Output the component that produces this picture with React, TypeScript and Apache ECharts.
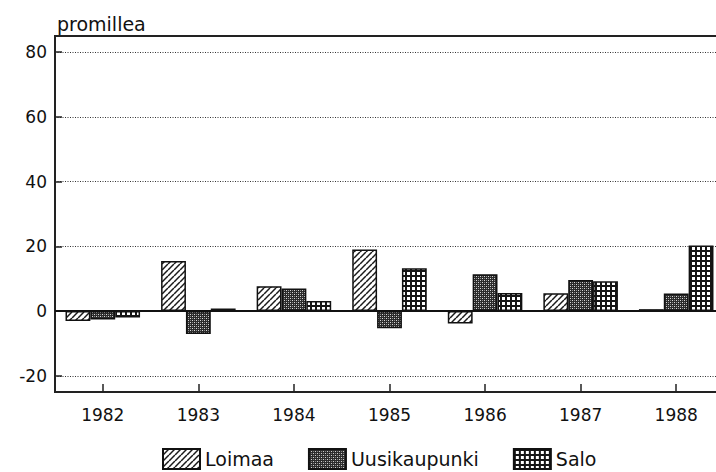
import React, { useEffect, useRef } from "react";
import * as echarts from "echarts";

const categories = ["1982", "1983", "1984", "1985", "1986", "1987", "1988"];
const seriesNames = ["Loimaa", "Uusikaupunki", "Salo"];
const loimaa = [-3.1, 15.5, 7.7, 19.0, -3.8, 5.5, 0.6];
const uusikaupunki = [-2.6, -7.1, 7.0, -5.3, 11.4, 9.6, 5.4];
const salo = [-2.0, 0.8, 3.1, 13.2, 5.6, 9.2, 20.3];
const yTicks = [-20, 0, 20, 40, 60, 80];
const yUnit = "promillea";

const FONT = "DejaVu Sans";

function makeTile(size: number, draw: (c: CanvasRenderingContext2D) => void) {
  const cv = document.createElement("canvas");
  cv.width = size;
  cv.height = size;
  const ctx = cv.getContext("2d") as CanvasRenderingContext2D;
  draw(ctx);
  return { image: cv, repeat: "repeat", imageWidth: size, imageHeight: size } as any;
}

function hatch() {
  const s = 6;
  return makeTile(s, (c) => {
    c.fillStyle = "#fff";
    c.fillRect(0, 0, s, s);
    c.strokeStyle = "#1a1a1a";
    c.lineWidth = 1.5;
    for (const k of [-s, 0, s]) {
      c.beginPath();
      c.moveTo(k, s);
      c.lineTo(k + s, 0);
      c.stroke();
    }
  });
}

function speckle() {
  const s = 4;
  return makeTile(s, (c) => {
    c.fillStyle = "#2b2b2b";
    c.fillRect(0, 0, s, s);
    c.fillStyle = "#d8d8d8";
    c.fillRect(0, 0, 1, 1);
    c.fillRect(2, 2, 1, 1);
    c.fillStyle = "#8a8a8a";
    c.fillRect(2, 0, 1, 1);
    c.fillRect(0, 2, 1, 1);
  });
}

function grid() {
  const s = 5;
  return makeTile(s, (c) => {
    c.fillStyle = "#151515";
    c.fillRect(0, 0, s, s);
    c.fillStyle = "#fff";
    c.fillRect(2, 2, 3, 3);
  });
}

export default function App() {
  const ref = useRef<HTMLDivElement>(null);
  useEffect(() => {
    if (!ref.current) return;
    const chart = echarts.init(ref.current, undefined, { renderer: "svg" });
    const patterns = [hatch(), speckle(), grid()];
    const values = [loimaa, uusikaupunki, salo];
    const series: any[] = seriesNames.map((name, i) => ({
      name,
      type: "bar",
      data: values[i],
      barGap: "0%",
      barCategoryGap: "22%",
      itemStyle: { color: patterns[i], borderColor: "#111", borderWidth: 1.5 },
      emphasis: { disabled: true },
      ...(i === 0
        ? {
            markLine: {
              silent: true,
              symbol: "none",
              label: { show: false },
              lineStyle: { color: "#111", width: 2, type: "solid" },
              data: [{ yAxis: 0 }],
            },
          }
        : {}),
    }));
    chart.setOption({
      animation: false,
      backgroundColor: "#fff",
      title: {
        text: yUnit,
        left: 52,
        top: 9,
        textStyle: { fontFamily: FONT, fontSize: 19, fontWeight: "normal", color: "#111" },
      },
      grid: {
        left: 55,
        right: -8,
        top: 36,
        bottom: 80,
        outerBoundsMode: "none",
        show: true,
        borderColor: "#222",
        borderWidth: 2,
        backgroundColor: "transparent",
        containLabel: false,
      },
      legend: {
        left: 162,
        top: 448,
        padding: 0,
        itemWidth: 37,
        itemHeight: 20,
        itemGap: 34,
        icon: "rect",
        selectedMode: false,
        textStyle: { fontFamily: FONT, fontSize: 19, color: "#111" },
        data: seriesNames,
      },
      xAxis: {
        type: "category",
        data: categories,
        axisLine: { show: true, onZero: false, lineStyle: { color: "#222", width: 2 } },
        axisTick: { show: true, inside: true, length: 8, alignWithLabel: true, lineStyle: { color: "#222", width: 1.5 } },
        axisLabel: { fontFamily: FONT, fontSize: 17, color: "#111", margin: 14 },
        splitLine: { show: false },
      },
      yAxis: {
        type: "value",
        min: -25,
        max: 85,
        axisLine: { show: true, lineStyle: { color: "#222", width: 2 } },
        axisTick: {
          show: true,
          inside: true,
          length: 7,
          customValues: yTicks,
          lineStyle: { color: "#222", width: 1.5 },
        },
        axisLabel: { fontFamily: FONT, fontSize: 17, color: "#111", margin: 8, customValues: yTicks },
        splitLine: { show: true, lineStyle: { color: "#333", width: 1, type: [1, 1.5] } },
      },
      series,
    });
    return () => chart.dispose();
  }, []);
  return <div ref={ref} style={{ width: 716, height: 472, position: "fixed", left: 0, top: 0 }} />;
}
